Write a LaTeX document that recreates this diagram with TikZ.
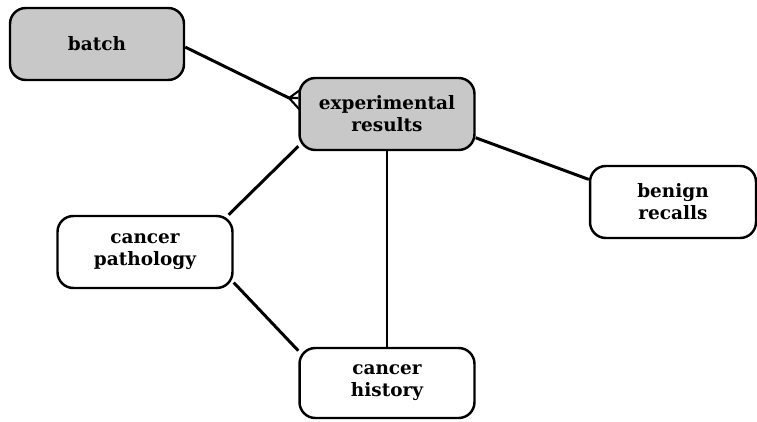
\documentclass[tikz,border=0pt]{standalone}
\usepackage{fontspec}
\setmainfont{DejaVu Serif}
\usepackage{tikz}
\usetikzlibrary{positioning,calc}
\definecolor{boxgray}{RGB}{200,200,200}

\begin{document}
\begin{tikzpicture}[x=0.02cm, y=-0.02cm,
    entity/.style={draw=black, line width=1.4pt, rounded corners=9pt, fill=white,
          minimum width=3.5cm, minimum height=1.44cm, align=center,
          font=\bfseries\fontsize{10.5}{12.5}\selectfont, inner sep=2pt},
    shaded/.style={entity, fill=boxgray},
    link/.style={line width=1.7pt, draw=black}]
    \useasboundingbox (0,0) rectangle (757,422);
    \node[shaded, minimum width=3.48cm] (batch) at (97,44) {batch};
    \node[shaded] (res) at (387,114) {experimental\\results};
    \node[entity, minimum width=3.32cm] (ben) at (673,202) {benign\\recalls};
    \node[entity] (path) at (145,252) {cancer\\pathology};
    \node[entity, minimum height=1.4cm] (hist) at (387,383) {cancer\\history};
    \coordinate (crow) at (289,98);
    \draw[link] (batch.-2) -- (crow);
    \draw[line width=1.2pt] (crow) -- (300,90) (crow) -- (res.west |- crow) (crow) -- (300,110);
    \draw[link] (res.-15) -- (ben.165);
    \draw[link] (res.200) -- (path.24);
    \draw[link] (res.south) -- (hist.north);
    \draw[link] (path.-19) -- (hist.160);
  \end{tikzpicture}
\end{document}
